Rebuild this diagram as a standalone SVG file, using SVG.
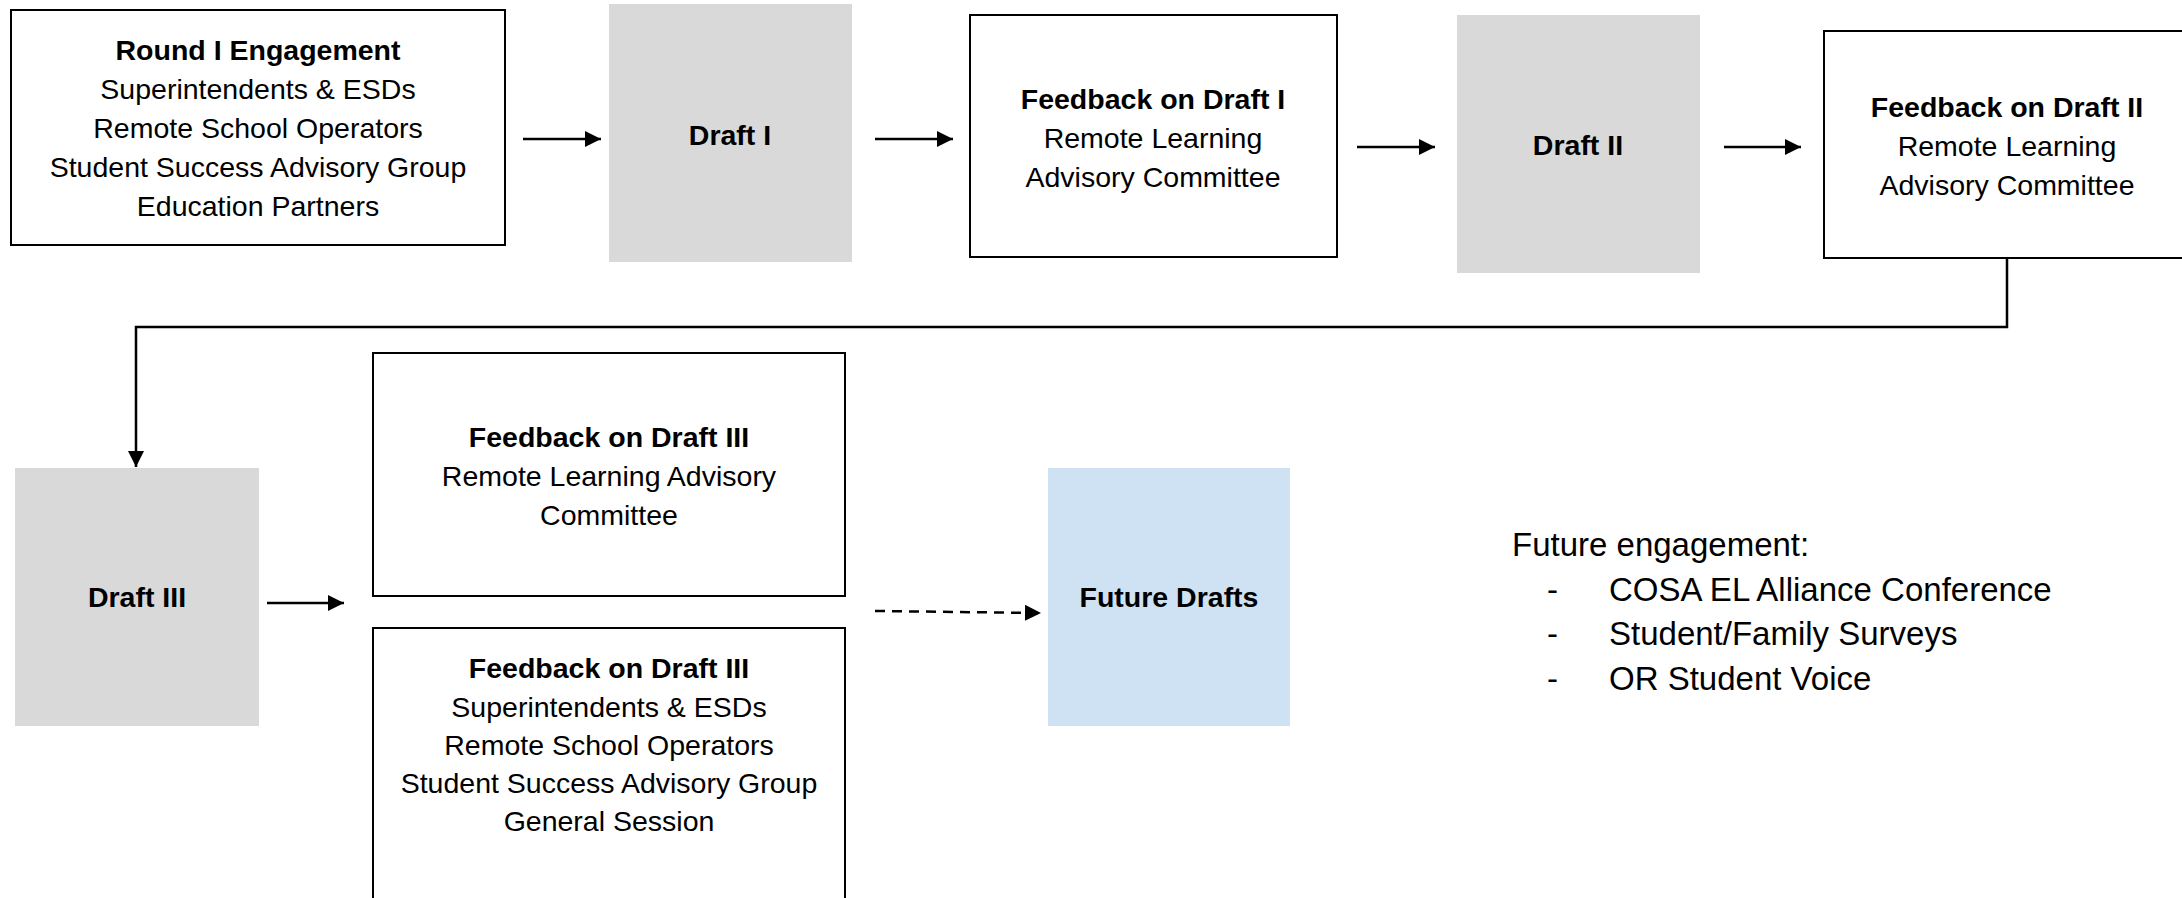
<svg xmlns="http://www.w3.org/2000/svg" width="2182" height="898" viewBox="0 0 2182 898">
  <style>
    .box { fill: #ffffff; stroke: #000000; stroke-width: 2; }
    .draft { fill: #d9d9d9; stroke: none; }
    .future { fill: #cfe2f3; stroke: none; }
    text { font-family: "Liberation Sans", Arial, sans-serif; font-size: 28.5px; fill: #000000; text-anchor: middle; }
    .b { font-weight: bold; }
    .note { font-size: 33px; text-anchor: start; }
    .link { fill: none; stroke: #000000; stroke-width: 2.5; }
    .dash { stroke-dasharray: 10 7; }
  </style>
  <defs>
    <marker id="arrow" markerUnits="userSpaceOnUse" markerWidth="17" markerHeight="16" refX="16" refY="8" orient="auto">
      <path d="M0,0 L16,8 L0,16 Z" fill="#000000"/>
    </marker>
  </defs>

  <g id="round1">
    <rect class="box" x="11" y="10" width="494" height="235"/>
    <text class="b" x="258" y="60">Round I Engagement</text>
    <text x="258" y="99">Superintendents &amp; ESDs</text>
    <text x="258" y="138">Remote School Operators</text>
    <text x="258" y="177">Student Success Advisory Group</text>
    <text x="258" y="216">Education Partners</text>
  </g>

  <g id="draft1">
    <rect class="draft" x="609" y="4" width="243" height="258"/>
    <text class="b" x="730" y="145">Draft I</text>
  </g>

  <g id="feedback1">
    <rect class="box" x="970" y="15" width="367" height="242"/>
    <text class="b" x="1153" y="109">Feedback on Draft I</text>
    <text x="1153" y="148">Remote Learning</text>
    <text x="1153" y="187">Advisory Committee</text>
  </g>

  <g id="draft2">
    <rect class="draft" x="1457" y="15" width="243" height="258"/>
    <text class="b" x="1578" y="155">Draft II</text>
  </g>

  <g id="feedback2">
    <rect class="box" x="1824" y="31" width="400" height="227"/>
    <text class="b" x="2007" y="117">Feedback on Draft II</text>
    <text x="2007" y="156">Remote Learning</text>
    <text x="2007" y="195">Advisory Committee</text>
  </g>

  <g id="draft3">
    <rect class="draft" x="15" y="468" width="244" height="258"/>
    <text class="b" x="137" y="607">Draft III</text>
  </g>

  <g id="feedback3a">
    <rect class="box" x="373" y="353" width="472" height="243"/>
    <text class="b" x="609" y="447">Feedback on Draft III</text>
    <text x="609" y="486">Remote Learning Advisory</text>
    <text x="609" y="525">Committee</text>
  </g>

  <g id="feedback3b">
    <rect class="box" x="373" y="628" width="472" height="300"/>
    <text class="b" x="609" y="678">Feedback on Draft III</text>
    <text x="609" y="717">Superintendents &amp; ESDs</text>
    <text x="609" y="755">Remote School Operators</text>
    <text x="609" y="793">Student Success Advisory Group</text>
    <text x="609" y="831">General Session</text>
  </g>

  <g id="futureDrafts">
    <rect class="future" x="1048" y="468" width="242" height="258"/>
    <text class="b" x="1169" y="607">Future Drafts</text>
  </g>

  <g id="futureEngagement">
    <text class="note" x="1512" y="556">Future engagement:</text>
    <text class="note" x="1547" y="601">-</text>
    <text class="note" x="1609" y="601">COSA EL Alliance Conference</text>
    <text class="note" x="1547" y="645">-</text>
    <text class="note" x="1609" y="645">Student/Family Surveys</text>
    <text class="note" x="1547" y="690">-</text>
    <text class="note" x="1609" y="690">OR Student Voice</text>
  </g>

  <g id="connectors">
    <line class="link" x1="523" y1="139" x2="601" y2="139" marker-end="url(#arrow)"/>
    <line class="link" x1="875" y1="139" x2="953" y2="139" marker-end="url(#arrow)"/>
    <line class="link" x1="1357" y1="147" x2="1435" y2="147" marker-end="url(#arrow)"/>
    <line class="link" x1="1724" y1="147" x2="1801" y2="147" marker-end="url(#arrow)"/>
    <path class="link" d="M2007,258 L2007,327 L136,327 L136,467" marker-end="url(#arrow)"/>
    <line class="link" x1="267" y1="603" x2="344" y2="603" marker-end="url(#arrow)"/>
    <line class="link dash" x1="875" y1="611" x2="1041" y2="613" marker-end="url(#arrow)"/>
  </g>
</svg>
